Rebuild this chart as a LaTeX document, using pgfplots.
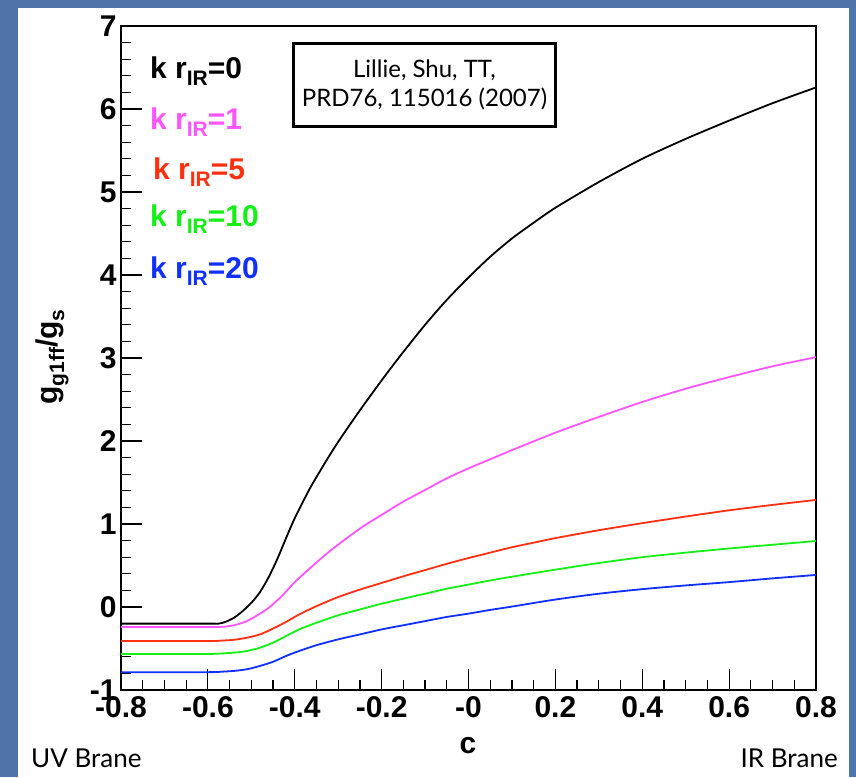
\documentclass[border=0pt]{standalone}
\usepackage{pgfplots}
\pgfplotsset{compat=1.18}
\usepackage{fontspec}
\setmainfont{Liberation Sans}
\newfontfamily\gill{Lato}
\definecolor{bgblue}{RGB}{78,116,168}
\definecolor{cmag}{RGB}{255,85,255}
\definecolor{cred}{RGB}{255,48,16}
\definecolor{cgreen}{RGB}{20,240,20}
\definecolor{cblue}{RGB}{16,48,255}
\newcommand{\sub}[1]{\raisebox{-7pt}{\fontsize{21}{21}\selectfont #1}}
\begin{document}
\begin{tikzpicture}[x=1pt,y=1pt]
\fill[bgblue] (0,0) rectangle (856,777);
\fill[white] (18,0) rectangle (849,769);
\begin{axis}[
  at={(121pt,87pt)}, anchor=south west,
  scale only axis, width=695pt, height=664pt,
  xmin=-0.8, xmax=0.8, ymin=-1, ymax=7,
  axis line style={line width=1.6pt},
  xtick={-0.8,-0.6,-0.4,-0.2,0,0.2,0.4,0.6,0.8},
  xticklabels={-0.8,-0.6,-0.4,-0.2,-0,0.2,0.4,0.6,0.8},
  ytick={-1,0,1,2,3,4,5,6,7},
  yticklabels={-1,0,1,2,3,4,5,6,7},
  minor x tick num=3, minor y tick num=4,
  tick align=inside, xtick pos=bottom, ytick pos=left,
  major tick length=21pt, minor tick length=10pt,
  tick style={line width=1.2pt, black},
  ticklabel style={font=\fontsize{30}{30}\selectfont\bfseries},
  /pgf/number format/assume math mode=true,
  xticklabel style={yshift=-3pt},
  yticklabel style={xshift=-1pt},
  clip=true,
  every axis plot/.append style={line width=1.8pt, smooth, tension=0.45},
]
\addplot[black] coordinates {
(-0.80,-0.2) (-0.60,-0.2) (-0.575,-0.2) (-0.56,-0.18) (-0.54,-0.13) (-0.52,-0.05)
(-0.50,0.05) (-0.48,0.18) (-0.46,0.36) (-0.44,0.58) (-0.42,0.83) (-0.40,1.07)
(-0.365,1.43) (-0.33,1.74) (-0.30,1.99) (-0.25,2.37) (-0.20,2.73) (-0.158,3.02)
(-0.10,3.40) (-0.05,3.70) (0.00,3.97) (0.05,4.22) (0.10,4.44) (0.15,4.63)
(0.20,4.81) (0.30,5.12) (0.40,5.40) (0.50,5.64) (0.60,5.86) (0.70,6.07) (0.80,6.26)};
\addplot[cmag] coordinates {
(-0.80,-0.24) (-0.60,-0.24) (-0.57,-0.24) (-0.54,-0.22) (-0.51,-0.17) (-0.48,-0.08)
(-0.46,-0.01) (-0.43,0.13) (-0.40,0.30) (-0.36,0.49) (-0.32,0.67) (-0.28,0.83)
(-0.24,0.98) (-0.20,1.11) (-0.15,1.27) (-0.10,1.41) (-0.05,1.55) (0.00,1.67)
(0.05,1.78) (0.10,1.89) (0.20,2.10) (0.30,2.29) (0.40,2.47) (0.50,2.63)
(0.60,2.77) (0.70,2.90) (0.80,3.01)};
\addplot[cred] coordinates {
(-0.80,-0.41) (-0.60,-0.41) (-0.57,-0.405) (-0.54,-0.395) (-0.51,-0.37) (-0.48,-0.33)
(-0.45,-0.26) (-0.42,-0.18) (-0.39,-0.09) (-0.35,0.01) (-0.30,0.12) (-0.25,0.21)
(-0.20,0.29) (-0.15,0.37) (-0.10,0.445) (-0.05,0.52) (0.00,0.59) (0.05,0.655)
(0.10,0.72) (0.15,0.775) (0.20,0.83) (0.30,0.925) (0.40,1.01) (0.50,1.09)
(0.60,1.165) (0.70,1.23) (0.80,1.29)};
\addplot[cgreen] coordinates {
(-0.80,-0.565) (-0.60,-0.565) (-0.57,-0.56) (-0.54,-0.55) (-0.51,-0.53) (-0.48,-0.49)
(-0.45,-0.43) (-0.42,-0.35) (-0.39,-0.27) (-0.35,-0.19) (-0.30,-0.10) (-0.25,-0.03)
(-0.20,0.04) (-0.15,0.10) (-0.10,0.16) (-0.05,0.22) (0.00,0.27) (0.05,0.32)
(0.10,0.365) (0.20,0.45) (0.30,0.53) (0.40,0.60) (0.50,0.655) (0.60,0.705)
(0.70,0.75) (0.80,0.795)};
\addplot[cblue] coordinates {
(-0.80,-0.785) (-0.60,-0.785) (-0.57,-0.78) (-0.54,-0.77) (-0.51,-0.75) (-0.48,-0.71)
(-0.45,-0.66) (-0.42,-0.59) (-0.39,-0.53) (-0.35,-0.46) (-0.30,-0.39) (-0.25,-0.33)
(-0.20,-0.27) (-0.15,-0.22) (-0.10,-0.17) (-0.05,-0.12) (0.00,-0.08) (0.05,-0.035)
(0.10,0.005) (0.20,0.09) (0.30,0.16) (0.40,0.215) (0.50,0.26) (0.60,0.30)
(0.70,0.345) (0.80,0.386)};
\end{axis}
% legend labels
\begin{scope}[every node/.style={anchor=west, inner sep=0pt, font=\fontsize{30}{30}\selectfont\bfseries}]
\node[black] at (150,706) {k r\sub{IR}=0};
\node[cmag] at (150,655) {k r\sub{IR}=1};
\node[cred] at (153,605) {k r\sub{IR}=5};
\node[cgreen] at (150,558) {k r\sub{IR}=10};
\node[cblue] at (150,506) {k r\sub{IR}=20};
\end{scope}
% citation box
\node[draw=black, line width=3.5pt, minimum width=262pt, minimum height=83pt, align=center,
  font=\gill\fontsize{24}{29}\selectfont, inner sep=0pt] at (424.5,692) {Lillie, Shu, TT,\\PRD76, 115016 (2007)};
% axis titles
\node[rotate=90, font=\fontsize{30}{30}\selectfont\bfseries, inner sep=0pt] at (52,420) {g\sub{g1ff}/g\sub{s}};
\node[font=\fontsize{30}{30}\selectfont\bfseries, inner sep=0pt] at (468,31) {c};
\node[anchor=west, font=\gill\fontsize{26}{26}\selectfont, inner sep=0pt] at (31,19) {UV Brane};
\node[anchor=east, font=\gill\fontsize{26}{26}\selectfont, inner sep=0pt] at (838,19) {IR Brane};
\end{tikzpicture}
\end{document}
